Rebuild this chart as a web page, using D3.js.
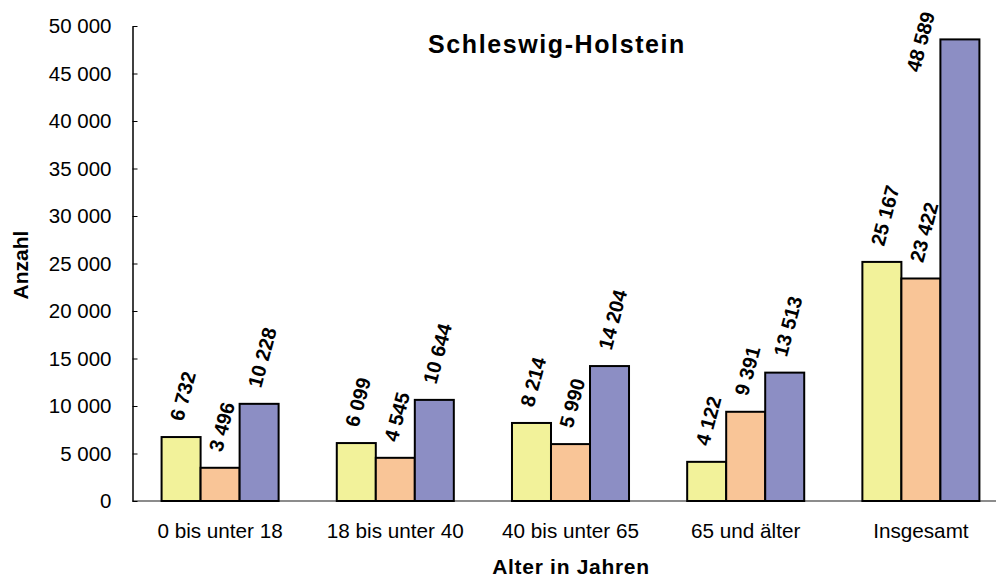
<!DOCTYPE html>
<meta charset="utf-8">
<style>
 body { margin: 0; background: #fff; }
 text { font-family: "Liberation Sans", Arial, sans-serif; }
</style>
<script src="https://d3js.org/d3.v7.min.js"></script>
<svg width="996" height="577"></svg>
<script>
const svg = d3.select('svg');

const categories = ['0 bis unter 18', '18 bis unter 40', '40 bis unter 65', '65 und älter', 'Insgesamt'];
const seriesA = [6732, 6099, 8214, 4122, 25167];
const seriesB = [3496, 4545, 5990, 9391, 23422];
const seriesC = [10228, 10644, 14204, 13513, 48589];
const colors = ['#f2f29a', '#f9c597', '#8c8ec4'];
const yTicks = [0, 5000, 10000, 15000, 20000, 25000, 30000, 35000, 40000, 45000, 50000];

const plotL = 132.5, plotR = 1008.5, plotT = 26, plotB = 501;
const angle = 75;

const fmt = v => d3.format(',')(v).replace(/,/g, ' ');

const x = d3.scaleBand()
	.domain(categories)
	.range([plotL, plotR])
	.paddingInner(0.332)
	.paddingOuter(0.166);

const xs = d3.scaleBand()
	.domain([0, 1, 2])
	.range([0, x.bandwidth()]);

const y = d3.scaleLinear()
	.domain([0, 50000])
	.range([plotB, plotT]);

// x axis line (runs off the right edge like the original)
svg.append('line')
	.attr('x1', plotL).attr('x2', 996)
	.attr('y1', plotB).attr('y2', plotB)
	.attr('stroke', '#666').attr('stroke-width', 1.5);

const yAxis = svg.append('g')
	.attr('transform', `translate(${plotL},0)`)
	.call(d3.axisLeft(y).tickValues(yTicks).tickFormat(fmt).tickSizeInner(-5).tickSizeOuter(0).tickPadding(21));
yAxis.select('.domain').attr('stroke', '#000').attr('stroke-width', 1.5);
yAxis.selectAll('.tick line').attr('stroke', '#000');
yAxis.selectAll('text').attr('font-size', 20.5).attr('fill', '#000')
	.style('font-family', '"Liberation Sans", Arial, sans-serif');

const series = [seriesA, seriesB, seriesC];
const rows = categories.map((c, i) => ({cat: c, vals: series.map(s => s[i])}));

const groups = svg.selectAll('g.grp')
	.data(rows)
	.join('g')
	.attr('class', 'grp')
	.attr('transform', d => `translate(${x(d.cat)},0)`);

groups.selectAll('rect')
	.data(d => d.vals.map((v, k) => ({v, k})))
	.join('rect')
	.attr('x', d => xs(d.k))
	.attr('width', xs.bandwidth())
	.attr('y', d => y(d.v))
	.attr('height', d => plotB - y(d.v))
	.attr('fill', d => colors[d.k])
	.attr('stroke', '#000')
	.attr('stroke-width', 2);

const sinA = Math.sin(angle * Math.PI / 180);
groups.selectAll('text.val')
	.data(d => d.vals.map((v, k) => ({v, k})))
	.join('text')
	.attr('class', 'val')
	.attr('font-size', 20)
	.attr('font-weight', 'bold')
	.text(d => fmt(d.v))
	.attr('transform', function(d) {
		const len = this.getComputedTextLength();
		let sx = xs(d.k) + xs.bandwidth() / 2 + 2;
		let sy = y(d.v) - 15;
		// label would leave the chart: put it beside the bar instead
		if (sy - len * sinA < 14) {
			sy = 14 + len * sinA;
			sx = xs(d.k) - 21;
		}
		return `translate(${sx},${sy}) rotate(${-angle})`;
	});

// category labels
svg.selectAll('text.cat')
	.data(categories)
	.join('text')
	.attr('class', 'cat')
	.attr('x', d => x(d) + x.bandwidth() / 2)
	.attr('y', 538)
	.attr('text-anchor', 'middle')
	.attr('font-size', 20.7)
	.text(d => d);

svg.append('text')
	.attr('x', 557).attr('y', 53)
	.attr('text-anchor', 'middle')
	.attr('font-size', 25)
	.attr('letter-spacing', 1.6)
	.attr('font-weight', 'bold')
	.text('Schleswig-Holstein');

svg.append('text')
	.attr('transform', 'translate(28,265) rotate(-90)')
	.attr('text-anchor', 'middle')
	.attr('font-size', 21)
	.attr('font-weight', 'bold')
	.text('Anzahl');

svg.append('text')
	.attr('x', 571).attr('y', 574)
	.attr('text-anchor', 'middle')
	.attr('font-size', 21)
	.attr('letter-spacing', 0.7)
	.attr('font-weight', 'bold')
	.text('Alter in Jahren');
</script>
